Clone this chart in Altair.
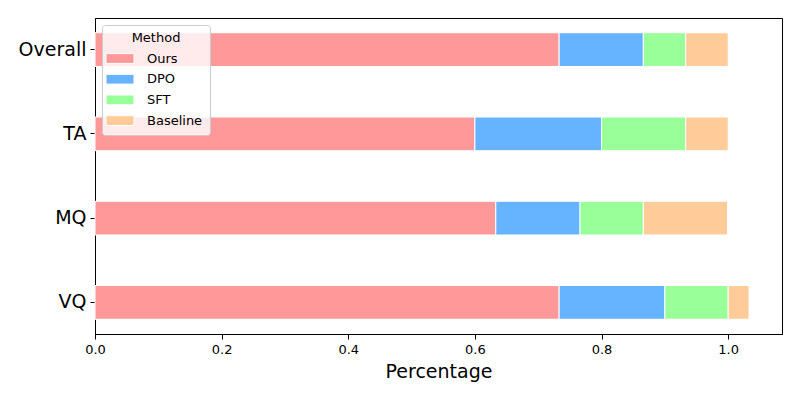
import altair as alt
import pandas as pd

categories = ["Overall", "TA", "MQ", "VQ"]
methods = ["Ours", "DPO", "SFT", "Baseline"]
ours = [0.733, 0.600, 0.633, 0.733]
dpo = [0.133, 0.200, 0.133, 0.167]
sft = [0.067, 0.133, 0.100, 0.100]
baseline = [0.067, 0.067, 0.133, 0.033]
colors = ["#ff9999", "#66b3ff", "#99ff99", "#ffcc99"]
x_ticks = [0.0, 0.2, 0.4, 0.6, 0.8, 1.0]

series = {"Ours": ours, "DPO": dpo, "SFT": sft, "Baseline": baseline}
rows = []
for mi, m in enumerate(methods):
    for ci, c in enumerate(categories):
        rows.append({"Category": c, "Method": m, "Value": series[m][ci], "order": mi})
df = pd.DataFrame(rows)

font = "DejaVu Sans"
sym_path = "M-1.5,-0.7L2.5,-0.7L2.5,0.7L-1.5,0.7Z"

chart = (
    alt.Chart(df)
    .mark_bar(stroke="white", strokeWidth=1)
    .encode(
        x=alt.X(
            "Value:Q",
            stack="zero",
            scale=alt.Scale(domain=[0, 1.085], nice=False, zero=True),
            axis=alt.Axis(
                values=x_ticks, format=".1f", grid=False, title="Percentage",
                titleFontSize=19, titleFontWeight="normal", titleFont=font,
                titleColor="black", titlePadding=6,
                labelFont=font, labelFontSize=13, labelColor="black", labelPadding=4,
                labelFlush=False,
                tickSize=5, tickColor="black", domainColor="black",
            ),
        ),
        y=alt.Y(
            "Category:N",
            sort=categories,
            scale=alt.Scale(paddingInner=0.6, paddingOuter=0.175),
            axis=alt.Axis(
                title=None, labelFont=font, labelFontSize=19, labelColor="black",
                labelPadding=4, tickSize=5, tickColor="black", domainColor="black",
            ),
        ),
        color=alt.Color(
            "Method:N",
            sort=methods,
            scale=alt.Scale(domain=methods, range=colors),
            legend=alt.Legend(
                orient="none", legendX=7, legendY=7, title="Method",
                titleAnchor="middle", titleFont=font, titleFontSize=13,
                titleFontWeight="normal", titleColor="black", titlePadding=6,
                labelFont=font, labelFontSize=13, labelColor="black",
                labelOffset=23, symbolType=sym_path, symbolSize=196,
                symbolStrokeColor="white", symbolStrokeWidth=1, symbolOpacity=1,
                rowPadding=5.7, padding=7,
                fillColor="rgba(255,255,255,0.8)", strokeColor="#cccccc",
                cornerRadius=3,
            ),
        ),
        order=alt.Order("order:Q", sort="ascending"),
    )
    .properties(
        width=687,
        height=316,
        autosize=alt.AutoSizeParams(type="none"),
        padding={"left": 87, "top": 10, "right": 10, "bottom": 55},
    )
    .configure_view(stroke="black", strokeWidth=1)
)

chart.save("out.html", embed_options={"renderer": "svg", "actions": False})
